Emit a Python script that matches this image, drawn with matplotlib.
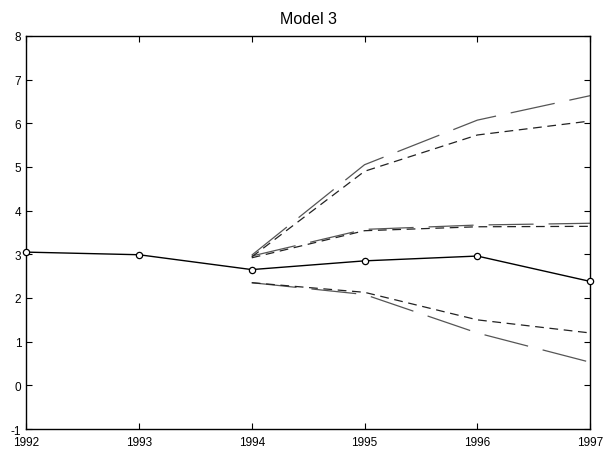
import matplotlib
matplotlib.use("Agg")
import matplotlib.pyplot as plt

plt.rcParams['font.family'] = ['Liberation Sans', 'DejaVu Sans']
plt.rcParams['axes.unicode_minus'] = False

# observed series
years = [1992, 1993, 1994, 1995, 1996, 1997]
actual = [3.05, 2.99, 2.65, 2.85, 2.96, 2.38]

# forecast bands from 1994
fc_years = [1994, 1995, 1996, 1997]
upper_long = [2.98, 5.05, 6.07, 6.63]
upper_short = [2.94, 4.90, 5.73, 6.05]
mid_long = [2.96, 3.57, 3.67, 3.71]
mid_short = [2.92, 3.54, 3.63, 3.64]
low_short = [2.35, 2.13, 1.50, 1.20]
low_long = [2.35, 2.08, 1.20, 0.53]

fig = plt.figure(figsize=(6.09, 4.6), dpi=100)
ax = fig.add_axes([0.043, 0.065, 0.926, 0.855])

long_style = dict(color='#555555', lw=0.9, dashes=(36, 12))
short_style = dict(color='#222222', lw=0.9, dashes=(7, 4.5))

ax.plot(fc_years, upper_long, **long_style)
ax.plot(fc_years, mid_long, **long_style)
ax.plot(fc_years, low_long, **long_style)
ax.plot(fc_years, upper_short, **short_style)
ax.plot(fc_years, mid_short, **short_style)
ax.plot(fc_years, low_short, **short_style)

ax.plot(years, actual, color='black', lw=1, marker='o', markersize=4.5,
        markerfacecolor='white', markeredgecolor='black', markeredgewidth=0.9,
        clip_on=False, zorder=5)

ax.set_xlim(1992, 1997)
ax.set_ylim(-1, 8)
ax.set_xticks(years)
ax.set_yticks(range(-1, 9))
ax.tick_params(direction='in', top=True, right=True, labelsize=8.5, length=4, width=0.8)
ax.tick_params(axis='x', pad=5)
for s in ax.spines.values():
    s.set_linewidth(1.0)
ax.set_title("Model 3", fontsize=11.5, pad=9)

fig.savefig("out.png", dpi=100)
